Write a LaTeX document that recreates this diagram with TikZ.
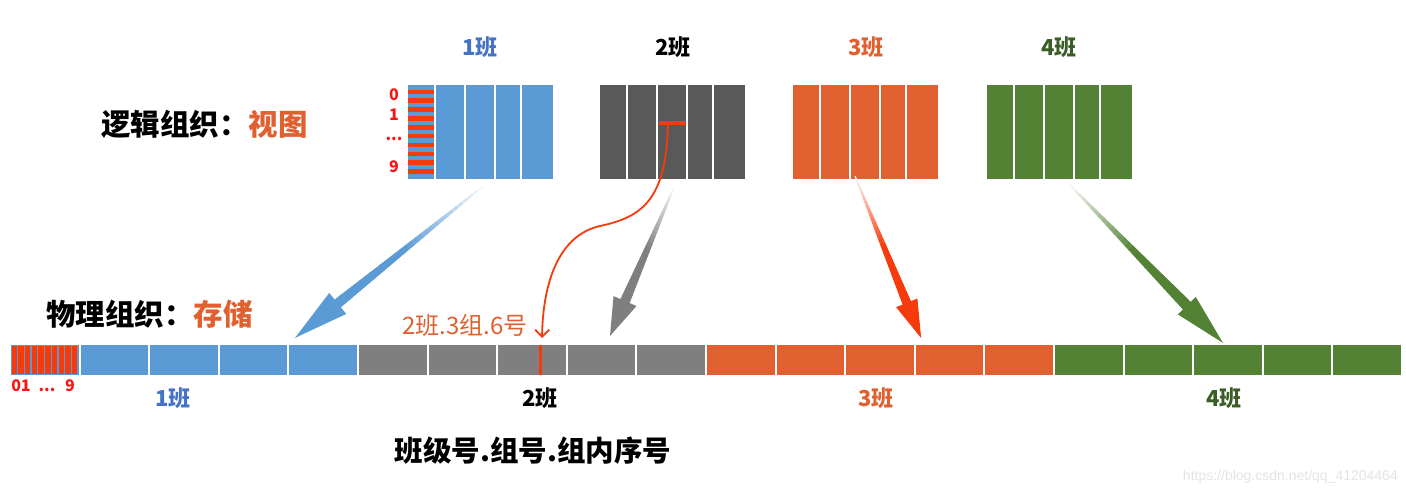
\documentclass[tikz,border=0pt]{standalone}
\usepackage{fontspec}
\setmainfont{Noto Sans CJK SC}
\newfontfamily\wmfont{Liberation Sans}
\usetikzlibrary{arrows.meta}
\definecolor{cblue}{HTML}{5B9BD5}
\definecolor{lblue}{HTML}{4472C4}
\definecolor{dgray}{HTML}{595959}
\definecolor{mgray}{HTML}{7F7F7F}
\definecolor{corange}{RGB}{224,96,48}
\definecolor{cgreen}{HTML}{548235}
\definecolor{lgreen}{HTML}{3B5E27}
\definecolor{cred}{RGB}{245,58,12}
\definecolor{pred}{RGB}{250,20,20}
\definecolor{wmc}{RGB}{228,228,228}
\tikzset{
  lbl/.style={inner sep=0pt, font=\bfseries\fontsize{22}{26}\selectfont},
  big/.style={inner sep=0pt, font=\bfseries\fontsize{29.5}{33}\selectfont},
  idx/.style={inner sep=0pt, text=pred, font=\bfseries\fontsize{16}{18}\selectfont},
}
% #1 start, #2 angle, #3 length, #4 colour, #5 head length, #6 head half width, #7 shaft width
\newcommand\fadearrow[7]{%
\begin{scope}[shift={(#1)}, rotate=#2]
\pgfmathsetmacro\Ls{#3-#5}
\foreach \i in {0,...,29}{
 \pgfmathsetmacro\xa{\Ls*\i/30}
 \pgfmathsetmacro\xb{min(\Ls*(\i+1)/30+0.8,\Ls+0.5)}
 \pgfmathsetmacro\ha{0.6+(#7/2-0.6)*\xa/\Ls}
 \pgfmathsetmacro\hb{0.6+(#7/2-0.6)*min(\xb,\Ls)/\Ls}
 \pgfmathtruncatemacro\pc{min(100,3+\i*6)}
 \fill[#4!\pc!white] (\xa,\ha) -- (\xb,\hb) -- (\xb,-\hb) -- (\xa,-\ha) -- cycle;
}
\fill[#4] (\Ls,#6) -- (#3,0) -- (\Ls,-#6) -- cycle;
\end{scope}}
\newcommand\topgrid[2]{%
 \foreach \a/\b in {0/28,28/58,58/88,88/114,114/147}{
  \fill[#2] ({#1+\a+1},85) rectangle ({#1+\b-1},179);
 }}
\begin{document}
\begin{tikzpicture}[x=1pt,y=-1pt]
\fill[white] (0,0) rectangle (1406,497);
\useasboundingbox (0,0) rectangle (1406,497);

% top grids
\topgrid{407}{cblue}
\topgrid{599}{dgray}
\topgrid{792}{corange}
\topgrid{986}{cgreen}
\foreach \k in {0,...,9}
  \fill[cred] (408,{89.6+8.85*\k}) rectangle (434,{94.2+8.85*\k});
\fill[cred] (659,121) rectangle (686,125);
\coordinate (bar2) at (668,125);

% bottom bar
\foreach \i/\c in {0/cblue,1/cblue,2/cblue,3/cblue,4/cblue,
                   5/mgray,6/mgray,7/mgray,8/mgray,9/mgray,
                   10/corange,11/corange,12/corange,13/corange,14/corange,
                   15/cgreen,16/cgreen,17/cgreen,18/cgreen,19/cgreen}{
  \fill[\c] ({10+69.6*\i+1},345) rectangle ({10+69.6*(\i+1)-1},375);
}
\foreach \k in {0,...,9}
  \fill[cred] ({11.6+6.7*\k},346) rectangle ({17.0+6.7*\k},374);
\fill[cred] (538.5,345) rectangle (541.5,375);
\coordinate (mark2) at (542,338);

% index labels
\node[idx] (i0) at (394,95) {0};
\node[idx] (i1) at (394,115) {1};
\node[idx] (id) at (394,139) {...};
\node[idx] (i9) at (394,167) {9};
\node[idx] (b01) at (21,386) {01};
\node[idx] (bd) at (47,390) {...};
\node[idx] (b9) at (70,386) {9};

% class labels
\node[lbl, text=lblue] (t1) at (480,47) {1班};
\node[lbl, text=black] (t2) at (673,47) {2班};
\node[lbl, text=corange] (t3) at (866,47) {3班};
\node[lbl, text=lgreen] (t4) at (1059,47) {4班};
\node[lbl, text=lblue] (s1) at (173,398) {1班};
\node[lbl, text=black] (s2) at (540,398) {2班};
\node[lbl, text=corange] (s3) at (876,398) {3班};
\node[lbl, text=lgreen] (s4) at (1224,398) {4班};

\node[big, anchor=west] (lg) at (101,124) {逻辑组织：\textcolor{corange}{视图}};
\node[big, anchor=west] (ph) at (46,314) {物理组织：\textcolor{corange}{存储}};
\node[big, font=\bfseries\fontsize{28.5}{32}\selectfont] (fmt) at (533,451) {班级号.组号.组内序号};
\node[inner sep=0pt, text=corange, font=\fontsize{24}{28}\selectfont] (ex) at (465,325) {2班.3组.6号};
\node[inner sep=0pt, text=wmc, font=\wmfont\fontsize{14}{16}\selectfont, anchor=east] (wm) at (1398,477) {https://blog.csdn.net/qq\_41204464};

% big arrows
\coordinate (a1) at (487,183);
\coordinate (a2) at (675,185);
\coordinate (a3) at (855,176);
\coordinate (a4) at (1067,182);
\fadearrow{a1}{218.9}{246.8}{cblue}{55}{13.5}{10}
\fadearrow{a2}{-113.3}{164.4}{mgray}{38}{12.5}{10}
\fadearrow{a3}{-67.8}{175}{cred}{38}{11.5}{9}
\fadearrow{a4}{-45.9}{224.2}{cgreen}{52}{12.5}{11}

% red curve
\draw[cred, line width=1.8pt, -{Straight Barb[length=7pt,width=14pt]}]
  (bar2) .. controls (666,200) and (642,217) .. (600,226)
         .. controls (560,235) and (543,280) .. (mark2);
\end{tikzpicture}
\end{document}
